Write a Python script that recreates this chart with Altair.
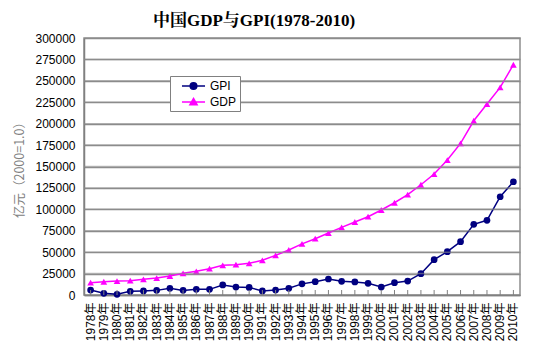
import altair as alt
import pandas as pd

years = ["1978年", "1979年", "1980年", "1981年", "1982年", "1983年", "1984年", "1985年",
         "1986年", "1987年", "1988年", "1989年", "1990年", "1991年", "1992年", "1993年",
         "1994年", "1995年", "1996年", "1997年", "1998年", "1999年", "2000年", "2001年",
         "2002年", "2003年", "2004年", "2005年", "2006年", "2007年", "2008年", "2009年", "2010年"]

gdp = [14400, 15500, 16300, 16700, 18300, 19800, 22200, 25300, 27600, 30700, 34600,
       35400, 37000, 40500, 46300, 52500, 59700, 65700, 72300, 79000, 85200, 91400,
       99200, 107700, 117100, 128700, 141200, 157500, 177000, 203400, 222900, 242400, 268800]

gpi = [5800, 2000, 800, 4300, 4700, 5400, 7800, 5400, 6600, 6600, 11700, 9300, 8900,
       4700, 5800, 7800, 13000, 15500, 18700, 16000, 15200, 13600, 9300, 14400, 16300,
       24900, 41200, 50600, 62200, 82500, 87200, 114700, 132200]

series_names = ["GPI", "GDP"]
series_colors = ["#000080", "#FF00FF"]
y_ticks = [0, 25000, 50000, 75000, 100000, 125000, 150000, 175000, 200000,
           225000, 250000, 275000, 300000]

df = pd.DataFrame({
    "year": years * 2,
    "value": gpi + gdp,
    "series": ["GPI"] * len(years) + ["GDP"] * len(years),
})
grid_df = pd.DataFrame({"value": y_ticks[1:-1]})

W, H = 436, 257
GRID = "#8c8c8c"

x_scale = alt.Scale(type="band", domain=years, paddingInner=0, paddingOuter=0)
x_axis = alt.Axis(title=None, labelAngle=-90, labelFontSize=12, labelPadding=7,
                  labelFont="Liberation Sans, Noto Sans CJK SC", labelColor="#000",
                  ticks=False, domainColor="#808080", domainWidth=1.5, grid=False)
y_scale = alt.Scale(domain=[0, 300000], nice=False)
y_axis = alt.Axis(values=y_ticks, format="d", labelFontSize=12, labelPadding=9,
                  labelFont="Liberation Sans", labelColor="#000",
                  ticks=True, tickSize=0, tickColor="#808080",
                  labelOverlap=False, grid=True, gridColor=GRID, gridWidth=1.5,
                  gridOpacity=1, gridDash=[],
                  domainColor="#808080", domainWidth=1.5,
                  title="亿元（2000=1.0）", titleColor="#808080",
                  titleFont="Noto Sans CJK SC", titleFontWeight="normal",
                  titleFontSize=12.5, titlePadding=8)

x_enc = alt.X("year:N", sort=years, scale=x_scale, axis=x_axis)
y_enc = alt.Y("value:Q", scale=y_scale, axis=y_axis)

base = alt.Chart(df).encode(x=x_enc, y=y_enc)

gpi_layer = base.transform_filter(alt.datum.series == "GPI").mark_line(
    color=series_colors[0], strokeWidth=1.5,
    point=alt.OverlayMarkDef(shape="circle", filled=True, size=45, color=series_colors[0], opacity=1))
gdp_layer = base.transform_filter(alt.datum.series == "GDP").mark_line(
    color=series_colors[1], strokeWidth=1.5,
    point=alt.OverlayMarkDef(shape="triangle-up", filled=True, size=45, color=series_colors[1], opacity=1))

grid_layer = alt.Chart(grid_df).mark_rect(color=GRID, opacity=0.6, height=1.5).encode(
    y=y_enc, x=alt.value(0), x2=alt.value(W))

ticks_layer = alt.Chart(pd.DataFrame({"year": years})).mark_rect(
    color="#808080", width=1, height=5).encode(
    x=alt.X("year:N", sort=years, scale=x_scale, axis=x_axis, bandPosition=0),
    y=alt.value(H - 2.5))

circle_path = "M0.33,0H4.17M2.8,0A0.55,0.55,0,1,1,1.7,0A0.55,0.55,0,1,1,2.8,0Z"
tri_path = "M0.33,0H4.17M2.25,-0.6L2.85,0.45L1.65,0.45Z"

legend_layer = base.transform_filter("false").mark_point(
    filled=True, opacity=1, strokeWidth=1.5).encode(
    color=alt.Color("series:N", scale=alt.Scale(domain=series_names, range=series_colors),
                    legend=alt.Legend(title=None)),
    stroke=alt.Stroke("series:N", scale=alt.Scale(domain=series_names, range=series_colors),
                      legend=alt.Legend(title=None)),
    shape=alt.Shape("series:N", scale=alt.Scale(domain=series_names, range=[circle_path, tri_path]),
                    legend=alt.Legend(title=None)),
)

chart = alt.layer(gpi_layer, gdp_layer, legend_layer, grid_layer, ticks_layer).properties(
    width=W, height=H,
    title=alt.TitleParams("中国GDP与GPI(1978-2010)", font="Liberation Serif, Noto Serif CJK SC, Noto Sans CJK SC",
                          fontSize=17, fontWeight="bold", color="#000", offset=2, dx=-48),
    padding={"left": 5, "top": 4, "right": 5, "bottom": 5},
).configure_view(stroke="#8f8f8f", strokeWidth=1.5).configure_legend(
    orient="none", legendX=86, legendY=38, fillColor="white", strokeColor="#808080",
    padding=3, symbolSize=144, labelOffset=23, rowPadding=2, labelFontSize=12,
    labelFont="Liberation Sans", labelColor="#000", symbolStrokeWidth=1.5,
)

chart.save("out.html", embed_options={"renderer": "svg", "actions": False})
